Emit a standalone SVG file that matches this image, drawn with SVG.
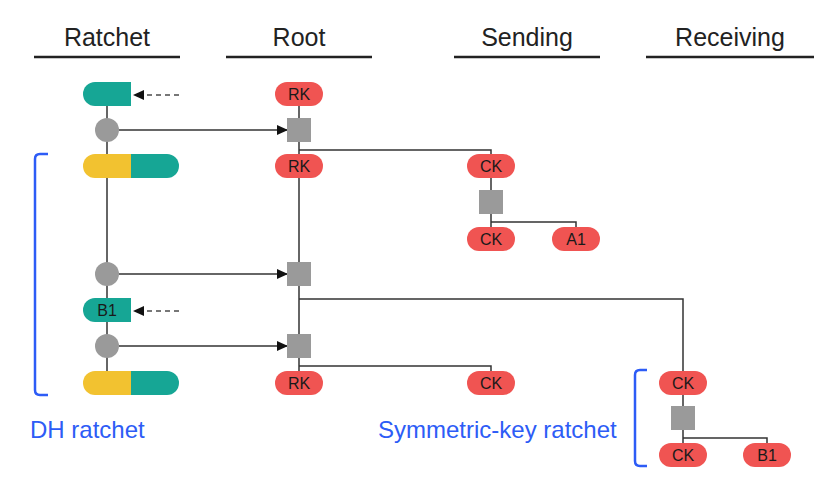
<svg xmlns="http://www.w3.org/2000/svg" width="828" height="479" viewBox="0 0 828 479">
<defs>
<style>
.hdr{font-family:"Liberation Sans",Arial,sans-serif;font-size:25px;fill:#222;text-anchor:middle}
.ul{stroke:#222;stroke-width:2.5}
.lbl{font-family:"Liberation Sans",Arial,sans-serif;font-size:16px;fill:#1a1a1a;text-anchor:middle}
.blue{font-family:"Liberation Sans",Arial,sans-serif;font-size:24px;fill:#2d5cf6}
.red{fill:#f05452}
.teal{fill:#16a695}
.yel{fill:#f2c230}
.gray{fill:#9a9a9a}
.ln{stroke:#333;stroke-width:1.5;fill:none}
.dash{stroke:#777;stroke-width:2;stroke-dasharray:5,4;fill:none}
.br{stroke:#2d5cf6;stroke-width:2.5;fill:none}
</style>
<marker id="ah" markerWidth="11" markerHeight="10" refX="10" refY="5" orient="auto" markerUnits="userSpaceOnUse">
<path d="M0,0 L11,5 L0,10 Z" fill="#111"/>
</marker>
</defs>
<rect width="828" height="479" fill="#fff"/>

<g id="headers">
<text class="hdr" x="107" y="46">Ratchet</text>
<line class="ul" x1="34" y1="57" x2="180" y2="57"/>
<text class="hdr" x="299" y="46">Root</text>
<line class="ul" x1="226" y1="57" x2="372" y2="57"/>
<text class="hdr" x="527" y="46">Sending</text>
<line class="ul" x1="454" y1="57" x2="600" y2="57"/>
<text class="hdr" x="730" y="46">Receiving</text>
<line class="ul" x1="646" y1="57" x2="814" y2="57"/>
</g>

<g id="connectors">
<line class="ln" x1="107" y1="106" x2="107" y2="371"/>
<line class="ln" x1="299" y1="105" x2="299" y2="371"/>
<line class="ln" x1="119" y1="130" x2="287" y2="130" marker-end="url(#ah)"/>
<line class="ln" x1="119" y1="274" x2="287" y2="274" marker-end="url(#ah)"/>
<line class="ln" x1="119" y1="346" x2="287" y2="346" marker-end="url(#ah)"/>
<line class="dash" x1="179" y1="95" x2="143" y2="95"/>
<path d="M133,95 L144,90 L144,100 Z" fill="#111"/>
<line class="dash" x1="179" y1="311" x2="143" y2="311"/>
<path d="M133,311 L144,306 L144,316 Z" fill="#111"/>
<path class="ln" d="M299,150 H491 V154"/>
<line class="ln" x1="491" y1="178" x2="491" y2="227"/>
<path class="ln" d="M491,222 H576 V227"/>
<path class="ln" d="M299,299 H683 V371"/>
<path class="ln" d="M299,366 H491 V371"/>
<line class="ln" x1="683" y1="395" x2="683" y2="443"/>
<path class="ln" d="M683,438 H767 V443"/>
</g>

<g id="ratchet-key-1">
<path class="teal" d="M95,82 H131 V106 H95 A12,12 0 0 1 95,82 Z"/>
</g>
<g id="ratchet-dh-1"><circle class="gray" cx="107" cy="130" r="12"/></g>
<g id="ratchet-pair-1">
<path class="yel" d="M95,154 H131 V178 H95 A12,12 0 0 1 95,154 Z"/>
<path class="teal" d="M131,154 H167 A12,12 0 0 1 167,178 H131 Z"/>
</g>
<g id="ratchet-dh-2"><circle class="gray" cx="107" cy="274" r="12"/></g>
<g id="ratchet-b1">
<path class="teal" d="M95,298 H131 V322 H95 A12,12 0 0 1 95,298 Z"/>
<text class="lbl" x="107" y="315.5">B1</text>
</g>
<g id="ratchet-dh-3"><circle class="gray" cx="107" cy="346" r="12"/></g>
<g id="ratchet-pair-2">
<path class="yel" d="M95,371 H131 V395 H95 A12,12 0 0 1 95,371 Z"/>
<path class="teal" d="M131,371 H167 A12,12 0 0 1 167,395 H131 Z"/>
</g>

<g id="root-rk-1"><rect class="red" x="275" y="82" width="48" height="24" rx="12"/><text class="lbl" x="299" y="99.5">RK</text></g>
<g id="root-kdf-1"><rect class="gray" x="287" y="118" width="24" height="24"/></g>
<g id="root-rk-2"><rect class="red" x="275" y="154" width="48" height="24" rx="12"/><text class="lbl" x="299" y="171.5">RK</text></g>
<g id="root-kdf-2"><rect class="gray" x="287" y="262" width="24" height="24"/></g>
<g id="root-kdf-3"><rect class="gray" x="287" y="334" width="24" height="24"/></g>
<g id="root-rk-3"><rect class="red" x="275" y="371" width="48" height="24" rx="12"/><text class="lbl" x="299" y="388.5">RK</text></g>

<g id="send-ck-1"><rect class="red" x="467" y="154" width="48" height="24" rx="12"/><text class="lbl" x="491" y="171.5">CK</text></g>
<g id="send-kdf-1"><rect class="gray" x="479" y="190" width="24" height="24"/></g>
<g id="send-ck-2"><rect class="red" x="467" y="227" width="48" height="24" rx="12"/><text class="lbl" x="491" y="244.5">CK</text></g>
<g id="send-a1"><rect class="red" x="552" y="227" width="48" height="24" rx="12"/><text class="lbl" x="576" y="244.5">A1</text></g>
<g id="send-ck-3"><rect class="red" x="467" y="371" width="48" height="24" rx="12"/><text class="lbl" x="491" y="388.5">CK</text></g>

<g id="recv-ck-1"><rect class="red" x="659" y="371" width="48" height="24" rx="12"/><text class="lbl" x="683" y="388.5">CK</text></g>
<g id="recv-kdf-1"><rect class="gray" x="671" y="406" width="24" height="24"/></g>
<g id="recv-ck-2"><rect class="red" x="659" y="443" width="48" height="24" rx="12"/><text class="lbl" x="683" y="460.5">CK</text></g>
<g id="recv-b1"><rect class="red" x="743" y="443" width="48" height="24" rx="12"/><text class="lbl" x="767" y="460.5">B1</text></g>

<g id="dh-bracket">
<path class="br" d="M48,154 H40 Q35,154 35,159 V390 Q35,395 40,395 H48"/>
<text class="blue" x="30" y="438">DH ratchet</text>
</g>
<g id="sym-bracket">
<path class="br" d="M647,370 H640 Q635,370 635,375 V461 Q635,466 640,466 H647"/>
<text class="blue" x="378" y="438">Symmetric-key ratchet</text>
</g>
</svg>
